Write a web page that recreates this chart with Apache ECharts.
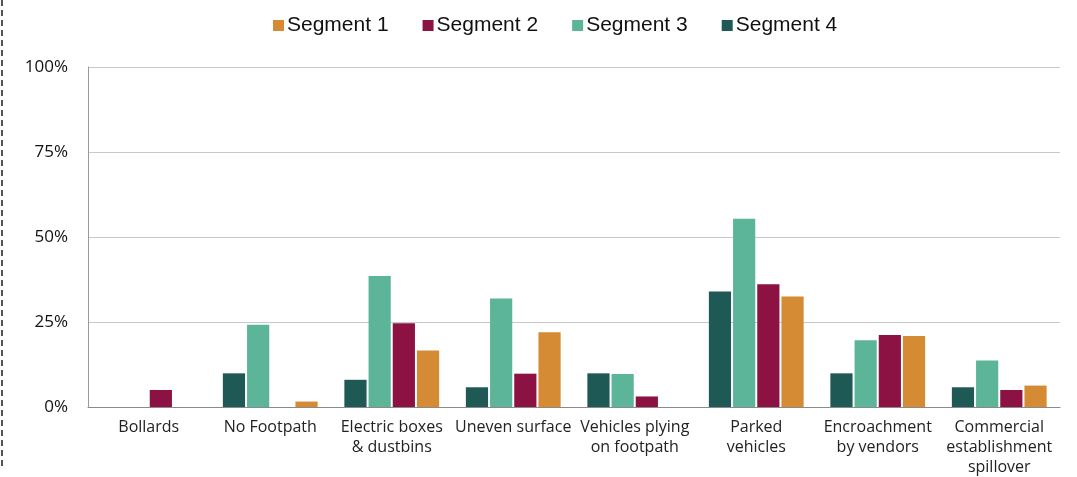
<!DOCTYPE html>
<html>
<head>
<meta charset="utf-8">
<script src="https://cdn.jsdelivr.net/npm/echarts@6/dist/echarts.min.js"></script>
<style>
html,body{margin:0;padding:0;background:#fff;}
#wrap{position:relative;width:1077px;height:477px;}
#edge{position:absolute;left:1px;top:0;height:466px;border-left:2px dashed #555;}
#chart{position:absolute;left:0;top:0;width:1077px;height:477px;}
</style>
</head>
<body>
<div id="wrap"><div id="edge"></div><div id="chart"></div></div>
<script>
const categories = ['Bollards', 'No Footpath', 'Electric boxes\n& dustbins', 'Uneven surface', 'Vehicles plying\non footpath', 'Parked\nvehicles', 'Encroachment\nby vendors', 'Commercial\nestablishment\nspillover'];
const segment1 = [0, 1.6, 16.6, 22, 0, 32.5, 20.9, 6.3];
const segment2 = [5, 0, 24.6, 9.8, 3.1, 36.1, 21.2, 5];
const segment3 = [0, 24.2, 38.5, 31.9, 9.7, 55.4, 19.6, 13.7];
const segment4 = [0, 9.9, 8, 5.8, 9.9, 34, 9.9, 5.8];
const legendNames = ['Segment 1', 'Segment 2', 'Segment 3', 'Segment 4'];
const yTicks = [0, 25, 50, 75, 100];

const colors = {
  'Segment 1': '#D48B33',
  'Segment 2': '#8C1243',
  'Segment 3': '#5CB598',
  'Segment 4': '#1E5956'
};

const chart = echarts.init(document.getElementById('chart'), null, {renderer: 'canvas'});
function bar(name, data) {
  return {
    name: name, type: 'bar', data: data,
    itemStyle: {color: colors[name]},
    barGap: '9%', barCategoryGap: '22%'
  };
}
chart.setOption({
  animation: false,
  legend: {
    data: legendNames,
    top: 10, left: 268,
    itemWidth: 11, itemHeight: 11, itemGap: 34,
    icon: 'rect',
    textStyle: {fontFamily: 'Liberation Sans, Arial, sans-serif', fontSize: 21, color: '#111', padding: [0, 0, 0, -2]}
  },
  grid: {left: 88, right: 17, top: 67, bottom: 70, containLabel: false},
  xAxis: {
    type: 'category', data: categories,
    axisLine: {lineStyle: {color: '#8a8a8a', width: 1}},
    axisTick: {show: false},
    axisLabel: {interval: 0, margin: 10, fontFamily: 'Open Sans, sans-serif', fontSize: 16, color: '#222', lineHeight: 20}
  },
  yAxis: {
    type: 'value', min: 0, max: 100, interval: 25,
    axisLine: {show: true, lineStyle: {color: '#9a9a9a', width: 1}},
    axisTick: {show: false},
    splitLine: {lineStyle: {color: '#c8c8c8', width: 1}},
    axisLabel: {
      margin: 20, fontFamily: 'Open Sans, sans-serif', fontSize: 17, color: '#111',
      formatter: function (v) { return yTicks.indexOf(v) >= 0 ? v + '%' : ''; }
    }
  },
  series: [
    bar('Segment 4', segment4),
    bar('Segment 3', segment3),
    bar('Segment 2', segment2),
    bar('Segment 1', segment1)
  ]
});
</script>
</body>
</html>
